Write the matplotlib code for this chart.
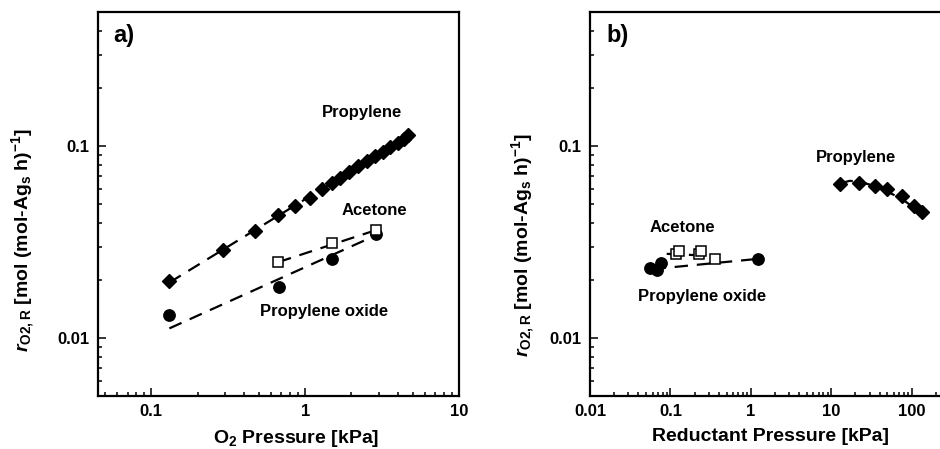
import numpy as np
import matplotlib
matplotlib.use("Agg")
import matplotlib.pyplot as plt

plt.rcParams["font.family"] = ["Liberation Sans", "DejaVu Sans"]
plt.rcParams["font.weight"] = "bold"
plt.rcParams["axes.labelweight"] = "bold"
plt.rcParams["mathtext.fontset"] = "custom"
plt.rcParams["mathtext.rm"] = "Liberation Sans:bold"
plt.rcParams["mathtext.it"] = "Liberation Sans:bold:italic"
plt.rcParams["mathtext.bf"] = "Liberation Sans:bold"

# ---- panel a: rate vs O2 pressure ----
a_prop_x = [0.131, 0.294, 0.47, 0.67, 0.86, 1.07, 1.28, 1.49, 1.68, 1.94,
            2.21, 2.51, 2.84, 3.19, 3.56, 3.99, 4.39, 4.68]
a_prop_y = [0.0198, 0.0287, 0.0362, 0.0438, 0.0489, 0.0536, 0.0595, 0.0642,
            0.0686, 0.0732, 0.0787, 0.0838, 0.0887, 0.0934, 0.0985, 0.104,
            0.1096, 0.114]
a_acet_x = [0.668, 1.49, 2.87]
a_acet_y = [0.0249, 0.0313, 0.0365]
a_po_x = [0.131, 0.673, 1.49, 2.87]
a_po_y = [0.01327, 0.01849, 0.0260, 0.0347]

a_prop_fit_x = [0.131, 4.68]
a_prop_fit_y = [0.0195, 0.113]
a_acet_fit_x = [0.668, 2.87]
a_acet_fit_y = [0.0249, 0.0365]
a_po_fit_x = [0.131, 2.87]
a_po_fit_y = [0.01125, 0.0343]

# ---- panel b: rate vs reductant pressure ----
b_prop_x = [12.8, 22.3, 35.2, 49.6, 76.3, 106, 135]
b_prop_y = [0.0634, 0.0644, 0.0619, 0.0600, 0.0549, 0.0490, 0.0453]
b_acet_x = [0.117, 0.128, 0.228, 0.239, 0.357]
b_acet_y = [0.0274, 0.0285, 0.0274, 0.0285, 0.0257]
b_po_x = [0.0556, 0.0674, 0.0755, 1.23]
b_po_y = [0.0233, 0.0226, 0.0247, 0.0260]

b_prop_fit_x = [12.8, 17, 22, 35, 50, 67, 76, 106, 135]
b_prop_fit_y = [0.064, 0.066, 0.0655, 0.062, 0.058, 0.0545, 0.053, 0.048, 0.0445]
b_acet_fit_x = [0.09, 0.36]
b_acet_fit_y = [0.0275, 0.0268]
b_po_fit_x = [0.06, 1.23]
b_po_fit_y = [0.0229, 0.0259]

W, H = 940, 449
fig = plt.figure(figsize=(W / 100, H / 100), dpi=100)

def px_axes(left, right, top, bottom):
    return fig.add_axes([left / W, (H - bottom) / H, (right - left) / W, (bottom - top) / H])

ax_a = px_axes(98, 459, 12, 396)
ax_b = px_axes(590, 992, 12, 396)   # right part runs past the figure edge, as in the original

dash = dict(color="black", lw=1.6, ls=(0, (6, 4)), zorder=2)
ylab = r"$r_{\mathrm{O2,R}}$ [mol (mol-Ag$_\mathrm{s}$ h)$^\mathrm{-1}$]"

for ax in (ax_a, ax_b):
    ax.set_xscale("log")
    ax.set_yscale("log")
    ax.set_ylim(0.005, 0.5)
    for s in ax.spines.values():
        s.set_linewidth(1.6)
    ax.tick_params(which="both", direction="in", top=False, right=False,
                   labelsize=12, width=1.1, pad=6)
    ax.tick_params(which="major", length=6)
    ax.tick_params(which="minor", length=3)
    ax.set_yticks([0.01, 0.1])
    ax.set_yticklabels(["0.01", "0.1"])
    ax.set_ylabel(ylab, fontsize=14, fontweight="bold")

# panel a
ax = ax_a
ax.set_xlim(0.045, 10)
ax.set_xticks([0.1, 1, 10])
ax.set_xticklabels(["0.1", "1", "10"])
ax.plot(a_prop_fit_x, a_prop_fit_y, **dash)
ax.plot(a_acet_fit_x, a_acet_fit_y, **dash)
ax.plot(a_po_fit_x, a_po_fit_y, **dash)
ax.plot(a_prop_x, a_prop_y, "D", color="black", ms=7.2, zorder=3)
ax.plot(a_po_x, a_po_y, "o", color="black", ms=8.2, zorder=3)
ax.plot(a_acet_x, a_acet_y, "s", mfc="white", mec="black", mew=1.1, ms=7.4, zorder=4)
ax.text(0.731, 0.737, "Propylene", transform=ax.transAxes, fontsize=12,
        ha="center", va="center")
ax.text(0.765, 0.484, "Acetone", transform=ax.transAxes, fontsize=12,
        ha="center", va="center")
ax.text(0.626, 0.221, "Propylene oxide", transform=ax.transAxes, fontsize=12,
        ha="center", va="center")
ax.text(0.042, 0.94, "a)", transform=ax.transAxes, fontsize=17,
        ha="left", va="center")
ax.set_xlabel("O$_2$ Pressure [kPa]", fontsize=14, fontweight="bold")
ax.xaxis.set_label_coords(0.548, -0.083)
ax.yaxis.set_label_coords(-0.169, 0.406)

# panel b
ax = ax_b
ax.set_xlim(0.01, 1000)
ax.set_xticks([0.01, 0.1, 1, 10, 100])
ax.set_xticklabels(["0.01", "0.1", "1", "10", "100"])
ax.plot(b_prop_fit_x, b_prop_fit_y, **dash)
ax.plot(b_acet_fit_x, b_acet_fit_y, **dash)
ax.plot(b_po_fit_x, b_po_fit_y, **dash)
ax.plot(b_prop_x, b_prop_y, "D", color="black", ms=7.2, zorder=3)
ax.plot(b_po_x, b_po_y, "o", color="black", ms=8.2, zorder=3)
ax.plot(b_acet_x, b_acet_y, "s", mfc="white", mec="black", mew=1.1, ms=7.4, zorder=4)
ax.text(0.661, 0.620, "Propylene", transform=ax.transAxes, fontsize=12,
        ha="center", va="center")
ax.text(0.231, 0.44, "Acetone", transform=ax.transAxes, fontsize=12,
        ha="center", va="center")
ax.text(0.279, 0.26, "Propylene oxide", transform=ax.transAxes, fontsize=12,
        ha="center", va="center")
ax.text(0.042, 0.94, "b)", transform=ax.transAxes, fontsize=17,
        ha="left", va="center")
ax.set_xlabel("Reductant Pressure [kPa]", fontsize=14, fontweight="bold")
ax.xaxis.set_label_coords(0.45, -0.083)
ax.yaxis.set_label_coords(-0.132, 0.393)

fig.savefig("out.png", dpi=100)
